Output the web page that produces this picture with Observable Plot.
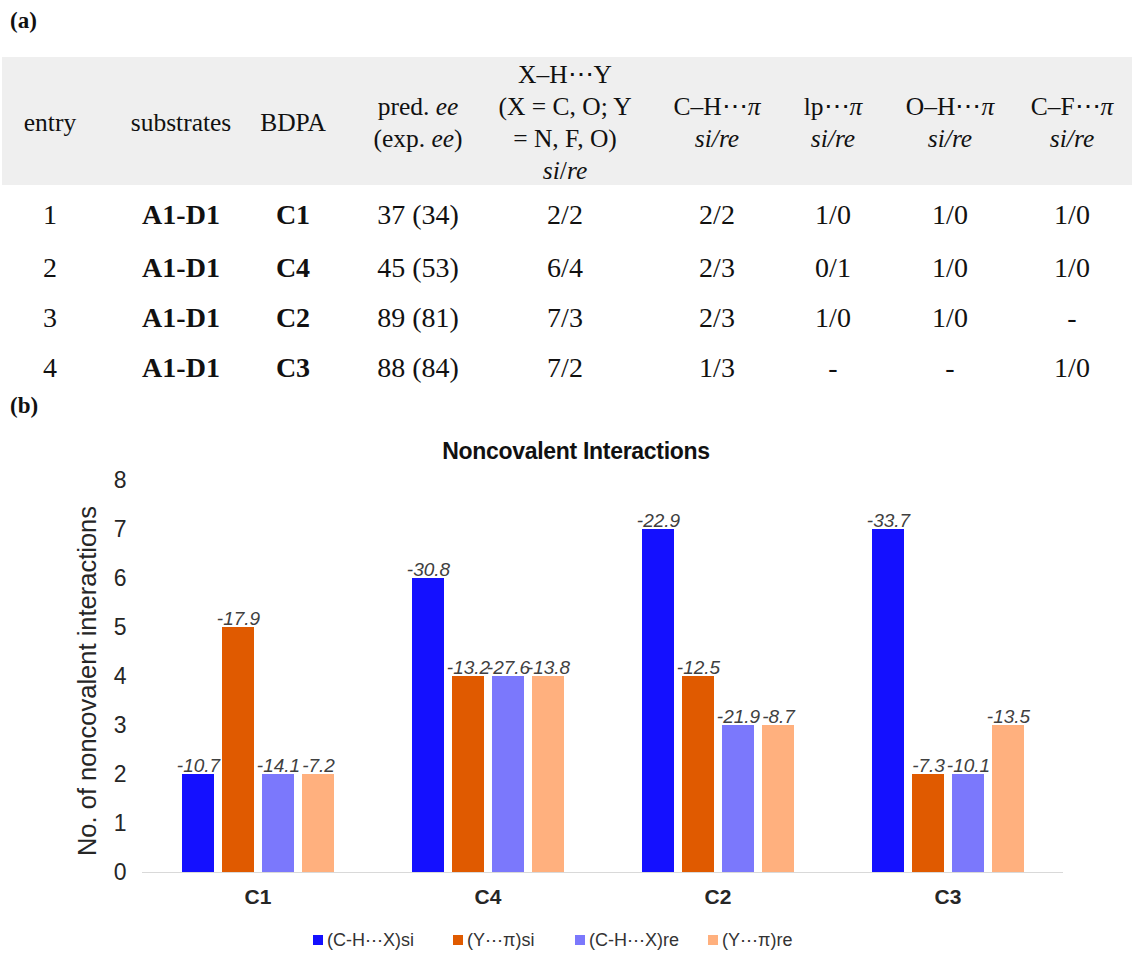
<!DOCTYPE html>
<html><head><meta charset="utf-8">
<script src="https://cdn.jsdelivr.net/npm/d3@7"></script>
<script src="https://cdn.jsdelivr.net/npm/@observablehq/plot@0.6"></script>
<style>
body{margin:0;background:#fff;width:1137px;height:956px;position:relative;overflow:hidden}
.serif{font-family:"Liberation Serif","Times New Roman",serif;color:#111}
.abs{position:absolute}
.cell{position:absolute;transform:translate(-50%,-50%);text-align:center;white-space:nowrap}
.hd{font-size:25.5px;line-height:32px}
.rw{font-size:28px;line-height:30px}
.sans{font-family:"Liberation Sans",Arial,sans-serif}
.leg{position:absolute;top:929px;font-size:18px;color:#333;display:flex;align-items:center;white-space:nowrap}
.leg span.sw{display:inline-block;width:10px;height:10px;margin-right:4px}
</style></head><body>
<div class="abs serif" style="left:10px;top:8px;font-weight:bold;font-size:23px">(a)</div>
<div class="abs" style="left:2px;top:57px;width:1130px;height:128px;background:#efefef"></div>
<div id="table" class="serif"></div>
<div class="abs serif" style="left:10px;top:393px;font-weight:bold;font-size:23px">(b)</div>
<div id="title" class="abs sans" style="left:576px;top:451px;transform:translate(-50%,-50%);font-weight:bold;font-size:23px;letter-spacing:-0.3px;color:#111;white-space:nowrap"></div>
<div id="chart" class="abs" style="left:0;top:460px"></div>
<div id="ylabel" class="abs sans" style="left:87px;top:681px;transform:translate(-50%,-50%) rotate(-90deg);font-size:25.5px;color:#262626;white-space:nowrap"></div>
<div id="legend" class="sans"></div>
<script>
// ---------- table data ----------
const headers = [
  "entry", "substrates", "BDPA",
  "pred. <i>ee</i><br>(exp. <i>ee</i>)",
  "X–H⋯Y<br>(X = C, O; Y<br>= N, F, O)<br><i>si</i>/<i>re</i>",
  "C–H⋯<i>π</i><br><i>si/re</i>",
  "lp⋯<i>π</i><br><i>si/re</i>",
  "O–H⋯<i>π</i><br><i>si/re</i>",
  "C–F⋯<i>π</i><br><i>si/re</i>"
];
const entries = ["1", "2", "3", "4"];
const substrates = ["A1-D1", "A1-D1", "A1-D1", "A1-D1"];
const bdpa = ["C1", "C4", "C2", "C3"];
const predEE = ["37 (34)", "45 (53)", "89 (81)", "88 (84)"];
const xhy = ["2/2", "6/4", "7/3", "7/2"];
const chpi = ["2/2", "2/3", "2/3", "1/3"];
const lppi = ["1/0", "0/1", "1/0", "-"];
const ohpi = ["1/0", "1/0", "1/0", "-"];
const cfpi = ["1/0", "1/0", "-", "1/0"];

// ---------- chart data ----------
const title = "Noncovalent Interactions";
const yLabel = "No. of noncovalent interactions";
const groups = ["C1", "C4", "C2", "C3"];
const series = ["(C-H⋯X)si", "(Y⋯π)si", "(C-H⋯X)re", "(Y⋯π)re"];
const colors = ["#1410ff", "#e05a00", "#7b78fc", "#ffb07e"];
const chxSi = [2, 6, 7, 7];
const ypiSi = [5, 4, 4, 2];
const chxRe = [2, 4, 3, 2];
const ypiRe = [2, 4, 3, 3];
const eChxSi = [-10.7, -30.8, -22.9, -33.7];
const eYpiSi = [-17.9, -13.2, -12.5, -7.3];
const eChxRe = [-14.1, -27.6, -21.9, -10.1];
const eYpiRe = [-7.2, -13.8, -8.7, -13.5];
const yTicks = [0, 1, 2, 3, 4, 5, 6, 7, 8];

// ---------- build table ----------
const colX = [50, 181, 293, 418, 565, 717, 833, 950, 1072];
const rowY = [215, 268, 318, 368];
const tbl = document.getElementById("table");
headers.forEach((h, i) => {
  const d = document.createElement("div");
  d.className = "cell hd";
  d.style.left = colX[i] + "px";
  d.style.top = "123px";
  d.innerHTML = h;
  tbl.appendChild(d);
});
const cols = [entries, substrates, bdpa, predEE, xhy, chpi, lppi, ohpi, cfpi];
const boldCols = [false, true, true, false, false, false, false, false, false];
cols.forEach((col, i) => col.forEach((v, r) => {
  const d = document.createElement("div");
  d.className = "cell rw";
  d.style.left = colX[i] + "px";
  d.style.top = rowY[r] + "px";
  if (boldCols[i]) d.style.fontWeight = "bold";
  d.textContent = v;
  tbl.appendChild(d);
}));
document.getElementById("title").textContent = title;
document.getElementById("ylabel").textContent = yLabel;

// ---------- chart ----------
const counts = [chxSi, ypiSi, chxRe, ypiRe];
const energies = [eChxSi, eYpiSi, eChxRe, eYpiRe];
const data = [];
groups.forEach((g, i) => series.forEach((s, j) => data.push({group: g, series: s, count: counts[j][i], energy: energies[j][i]})));

const chart = Plot.plot({
  width: 1137, height: 452,
  marginTop: 20, marginBottom: 40, marginLeft: 142, marginRight: 75,
  style: {fontFamily: "'Liberation Sans', Arial, sans-serif", color: "#262626", background: "transparent", overflow: "visible"},
  fx: {domain: groups, paddingInner: 0.3, paddingOuter: 0.15, label: null},
  x: {domain: series, paddingInner: 0.2, paddingOuter: 0.1, axis: null},
  y: {domain: [0, 8]},
  color: {domain: series, range: colors},
  marks: [
    Plot.axisY({ticks: yTicks, tickSize: 0, tickPadding: 51, fontSize: 23, label: null}),
    Plot.axisFx({anchor: "bottom", tickSize: 0, tickPadding: 17, fontSize: 21, fontWeight: "bold", label: null}),
    Plot.ruleY([0], {stroke: "#d9d9d9", insetLeft: -35, insetRight: -35}),
    Plot.barY(data, {fx: "group", x: "series", y: "count", fill: "series"}),
    Plot.text(data, {fx: "group", x: "series", y: "count", text: d => d.energy.toFixed(1), dy: -3, lineAnchor: "bottom", fontStyle: "italic", fontSize: 19, fill: "#404040"})
  ]
});
document.getElementById("chart").appendChild(chart);

// ---------- legend ----------
const legX = [313, 453, 575, 708];
const leg = document.getElementById("legend");
series.forEach((s, i) => {
  const d = document.createElement("div");
  d.className = "leg";
  d.style.left = legX[i] + "px";
  d.innerHTML = `<span class="sw" style="background:${colors[i]}"></span>${s}`;
  leg.appendChild(d);
});
</script>
</body></html>
